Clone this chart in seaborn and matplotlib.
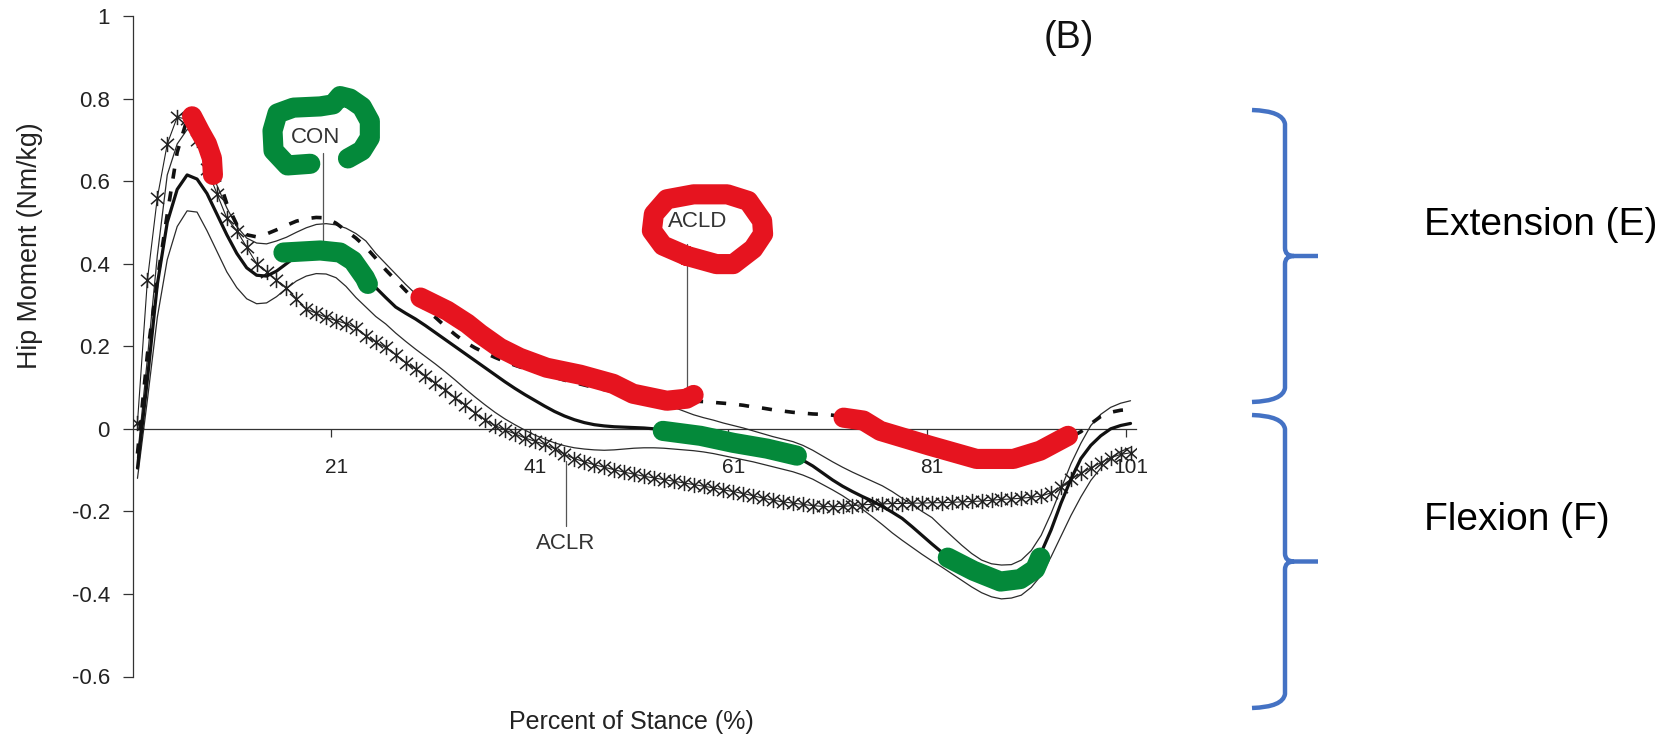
import numpy as np
import matplotlib
matplotlib.use("Agg")
import matplotlib.pyplot as plt
from matplotlib.path import Path
from matplotlib.patches import PathPatch
import seaborn as sns

# ---------------------------------------------------------------- data
stance = np.arange(1, 102)  # percent of stance, 1..101

aclr = [0.015, 0.36, 0.56, 0.69, 0.755, 0.75, 0.70, 0.63, 0.57, 0.51,
        0.48, 0.44, 0.40, 0.38, 0.36, 0.342, 0.315, 0.29, 0.28, 0.27,
        0.262, 0.255, 0.245, 0.225, 0.21, 0.197, 0.18, 0.16, 0.145, 0.128,
        0.11, 0.095, 0.075, 0.058, 0.038, 0.022, 0.008, -0.003, -0.012, -0.022,
        -0.03, -0.038, -0.048, -0.062, -0.072, -0.08, -0.087, -0.093, -0.099, -0.105,
        -0.11, -0.115, -0.119, -0.123, -0.127, -0.131, -0.135, -0.139, -0.143, -0.148,
        -0.152, -0.157, -0.162, -0.168, -0.173, -0.177, -0.18, -0.183, -0.186, -0.188,
        -0.189, -0.188, -0.186, -0.184, -0.183, -0.182, -0.181, -0.181, -0.18, -0.18,
        -0.179, -0.179, -0.178, -0.177, -0.176, -0.175, -0.173, -0.171, -0.17, -0.168,
        -0.166, -0.163, -0.155, -0.14, -0.122, -0.108, -0.095, -0.082, -0.07, -0.062,
        -0.058]

acld = [-0.06, 0.18, 0.36, 0.52, 0.67, 0.75, 0.77, 0.70, 0.62, 0.545,
        0.495, 0.47, 0.465, 0.472, 0.482, 0.493, 0.503, 0.509, 0.512, 0.511,
        0.498, 0.48, 0.462, 0.44, 0.413, 0.385, 0.36, 0.335, 0.31, 0.29,
        0.27, 0.248, 0.228, 0.21, 0.196, 0.184, 0.173, 0.163, 0.154, 0.146,
        0.139, 0.132, 0.125, 0.118, 0.112, 0.106, 0.1, 0.095, 0.09, 0.086,
        0.082, 0.079, 0.076, 0.073, 0.071, 0.069, 0.067, 0.066, 0.064, 0.062,
        0.06, 0.057, 0.053, 0.05, 0.046, 0.043, 0.04, 0.038, 0.036, 0.035,
        0.033, 0.029, 0.022, 0.013, 0.003, -0.006, -0.014, -0.021, -0.028, -0.035,
        -0.042, -0.049, -0.056, -0.062, -0.067, -0.071, -0.073, -0.074, -0.073, -0.07,
        -0.064, -0.056, -0.045, -0.033, -0.02, -0.007, 0.012, 0.03, 0.04, 0.045,
        0.047]

con_mean = [-0.095, 0.12, 0.35, 0.50, 0.58, 0.615, 0.605, 0.57, 0.52, 0.47,
            0.425, 0.39, 0.372, 0.37, 0.382, 0.40, 0.418, 0.43, 0.436, 0.436,
            0.43, 0.415, 0.395, 0.37, 0.342, 0.318, 0.295, 0.28, 0.266, 0.25,
            0.233, 0.216, 0.199, 0.182, 0.165, 0.148, 0.131, 0.114, 0.098, 0.083,
            0.069, 0.055, 0.042, 0.031, 0.022, 0.015, 0.01, 0.007, 0.005, 0.004,
            0.003, 0.002, 0.0, -0.003, -0.007, -0.011, -0.015, -0.019, -0.023, -0.027,
            -0.031, -0.035, -0.04, -0.045, -0.051, -0.058, -0.066, -0.076, -0.09, -0.107,
            -0.124, -0.139, -0.152, -0.164, -0.175, -0.188, -0.202, -0.217, -0.237, -0.258,
            -0.279, -0.299, -0.318, -0.334, -0.348, -0.359, -0.367, -0.371, -0.371, -0.362,
            -0.34, -0.3, -0.245, -0.18, -0.122, -0.072, -0.04, -0.017, 0.0, 0.008,
            0.013]

con_upper = [-0.07, 0.17, 0.42, 0.615, 0.69, 0.725, 0.72, 0.66, 0.59, 0.535,
             0.49, 0.462, 0.45, 0.448, 0.455, 0.464, 0.476, 0.487, 0.495, 0.497,
             0.494, 0.486, 0.473, 0.455, 0.425, 0.40, 0.375, 0.35, 0.327, 0.305,
             0.287, 0.27, 0.254, 0.239, 0.225, 0.211, 0.198, 0.185, 0.175, 0.165,
             0.156, 0.148, 0.14, 0.132, 0.125, 0.118, 0.111, 0.105, 0.097, 0.09,
             0.083, 0.075, 0.068, 0.06, 0.052, 0.043, 0.034, 0.027, 0.021, 0.014,
             0.008, 0.002, -0.005, -0.012, -0.019, -0.025, -0.031, -0.04, -0.052, -0.066,
             -0.08, -0.093, -0.105, -0.116, -0.127, -0.138, -0.152, -0.168, -0.184, -0.2,
             -0.215, -0.238, -0.26, -0.282, -0.302, -0.318, -0.327, -0.33, -0.329, -0.318,
             -0.295, -0.258, -0.205, -0.145, -0.085, -0.035, 0.008, 0.035, 0.052, 0.062,
             0.068]

con_lower = [-0.12, 0.07, 0.27, 0.41, 0.49, 0.528, 0.525, 0.48, 0.43, 0.38,
             0.342, 0.315, 0.303, 0.305, 0.32, 0.34, 0.358, 0.37, 0.376, 0.375,
             0.366, 0.345, 0.318, 0.295, 0.272, 0.254, 0.232, 0.212, 0.193, 0.175,
             0.157, 0.138, 0.118, 0.097, 0.077, 0.058, 0.04, 0.024, 0.01, -0.003,
             -0.015, -0.025, -0.034, -0.041, -0.046, -0.049, -0.051, -0.052, -0.051, -0.049,
             -0.047, -0.046, -0.046, -0.047, -0.049, -0.051, -0.053, -0.056, -0.06, -0.065,
             -0.07, -0.075, -0.08, -0.086, -0.092, -0.098, -0.104, -0.112, -0.122, -0.135,
             -0.148, -0.162, -0.178, -0.195, -0.213, -0.232, -0.252, -0.27, -0.287, -0.304,
             -0.32, -0.335, -0.351, -0.367, -0.383, -0.397, -0.407, -0.412, -0.41, -0.403,
             -0.384, -0.355, -0.31, -0.26, -0.21, -0.165, -0.125, -0.095, -0.07, -0.055,
             -0.045]

y_ticks = [-0.6, -0.4, -0.2, 0.0, 0.2, 0.4, 0.6, 0.8, 1.0]
y_tick_labels = ["-0.6", "-0.4", "-0.2", "0", "0.2", "0.4", "0.6", "0.8", "1"]
x_tick_labels = ["21", "41", "61", "81", "101"]

# group labels with their leader lines (x, y of text; x, y0, y1 of leader)
group_names = ["CON", "ACLD", "ACLR"]
group_text_x = [18.9, 57.4, 44.1]
group_text_y = [0.705, 0.502, -0.279]
leader_x = [19.7, 56.3, 44.2]
leader_y0 = [0.669, 0.448, -0.078]
leader_y1 = [0.451, 0.100, -0.235]

# hand-drawn highlight strokes (data coordinates)
red_peak_x = [6.5, 7.3, 8.0, 8.5, 8.6]
red_peak_y = [0.757, 0.72, 0.69, 0.655, 0.615]
red_mid_x = [29.5, 32.2, 34.2, 35.5, 37.5, 39.5, 42.2, 45.6, 48.9, 50.9, 54.3, 56.3, 57.0]
red_mid_y = [0.318, 0.286, 0.255, 0.230, 0.196, 0.172, 0.148, 0.131, 0.109, 0.085, 0.068, 0.073, 0.082]
red_late_x = [72.1, 74.1, 75.8, 80.8, 85.5, 89.2, 91.9, 94.7]
red_late_y = [0.027, 0.020, -0.005, -0.041, -0.073, -0.073, -0.053, -0.017]
red_ring_x = [56.3, 53.9, 52.8, 53.0, 54.3, 57.0, 60.4, 62.5, 63.9, 64.0, 63.0, 61.0, 59.3, 56.3]
red_ring_y = [0.419, 0.444, 0.480, 0.520, 0.556, 0.568, 0.568, 0.552, 0.504, 0.472, 0.436, 0.399, 0.399, 0.419]

green_hump_x = [15.7, 19.4, 21.4, 22.7, 23.9, 24.2]
green_hump_y = [0.427, 0.432, 0.427, 0.407, 0.366, 0.351]
green_mid_x = [53.9, 57.7, 61.0, 64.4, 67.4]
green_mid_y = [-0.005, -0.017, -0.034, -0.048, -0.065]
green_dip_x = [82.6, 85.2, 87.9, 89.9, 91.4, 91.9]
green_dip_y = [-0.312, -0.344, -0.370, -0.364, -0.340, -0.312]
green_ring_x = [18.4, 16.1, 14.7, 14.6, 15.1, 16.7, 19.4, 20.7, 21.4, 22.4, 23.6, 24.4, 24.4, 23.6, 22.2]
green_ring_y = [0.642, 0.638, 0.674, 0.722, 0.764, 0.778, 0.781, 0.786, 0.806, 0.800, 0.780, 0.745, 0.705, 0.674, 0.655]

# ---------------------------------------------------------------- style
sns.set_style("ticks")
plt.rcParams["font.family"] = ["Liberation Sans", "DejaVu Sans"]
plt.rcParams["axes.unicode_minus"] = False

W, H = 1670, 738
fig = plt.figure(figsize=(W / 100, H / 100), dpi=100)
ax = fig.add_axes([132.5 / W, 61.5 / H, 1003 / W, 660.5 / H])

# asterisk glyph: a vertical bar crossed by an X
asterisk = Path([(0, -1), (0, 1), (-0.85, -0.75), (0.85, 0.75), (-0.85, 0.75), (0.85, -0.75)],
                [Path.MOVETO, Path.LINETO, Path.MOVETO, Path.LINETO, Path.MOVETO, Path.LINETO])

line_kw = dict(ax=ax, estimator=None, sort=False, legend=False)

# CON +/- 1 SD (thin) and mean (thick)
sns.lineplot(x=stance, y=con_upper, color="#2b2b2b", linewidth=0.9, zorder=3, **line_kw)
sns.lineplot(x=stance, y=con_lower, color="#2b2b2b", linewidth=0.9, zorder=3, **line_kw)
# ACLR: thin line with asterisk markers
sns.lineplot(x=stance, y=aclr, color="#222222", linewidth=0.8, marker=asterisk,
             markersize=11, markeredgewidth=1.1, markeredgecolor="#222222",
             markerfacecolor="none", zorder=3, **line_kw)
sns.lineplot(x=stance, y=con_mean, color="#111111", linewidth=2.3, zorder=4, **line_kw)
# ACLD: heavy short dashes
sns.lineplot(x=stance, y=acld, color="#111111", linewidth=2.6,
             linestyle=(0, (2.8, 3.6)), zorder=4, **line_kw)

# group labels and leader lines
for name, tx, ty, lx, ly0, ly1 in zip(group_names, group_text_x, group_text_y,
                                      leader_x, leader_y0, leader_y1):
    ax.plot([lx, lx], [ly0, ly1], color="#555555", linewidth=0.9, zorder=3)
    ax.text(tx, ty, name, ha="center", va="center", fontsize=16, color="#333333", zorder=4)

# highlight strokes
stroke_kw = dict(linewidth=14.5, solid_capstyle="round", solid_joinstyle="round", zorder=6)
red = "#E6141F"
green = "#04893A"
for xs, ys in [(red_peak_x, red_peak_y), (red_mid_x, red_mid_y),
               (red_late_x, red_late_y), (red_ring_x, red_ring_y)]:
    ax.plot(xs, ys, color=red, **stroke_kw)
for xs, ys in [(green_hump_x, green_hump_y), (green_mid_x, green_mid_y),
               (green_dip_x, green_dip_y), (green_ring_x, green_ring_y)]:
    ax.plot(xs, ys, color=green, **stroke_kw)

# ---------------------------------------------------------------- axes
ax.set_xlim(0.5, 101.5)
ax.set_ylim(-0.6, 1.0)
for s in ["top", "right"]:
    ax.spines[s].set_visible(False)
ax.spines["bottom"].set_position(("data", 0))
for s in ["left", "bottom"]:
    ax.spines[s].set_color("#333333")
    ax.spines[s].set_linewidth(0.9)

ax.set_yticks(y_ticks)
ax.set_yticklabels(y_tick_labels)
ax.set_xticks([21, 41, 61, 81, 101])
ax.set_xticklabels(x_tick_labels)
ax.set_xticks([20.5, 40.5, 60.5, 80.5, 100.5], minor=True)
ax.tick_params(axis="y", which="major", length=7.2, width=0.9, direction="out",
               pad=9.0, labelsize=16, colors="#333333", labelcolor="#222222")
ax.tick_params(axis="x", which="major", length=0, pad=21, labelsize=15,
               labelcolor="#222222")
ax.tick_params(axis="x", which="minor", length=6, width=0.9, direction="out",
               color="#333333")

ax.set_xlabel("Percent of Stance (%)", fontsize=18, color="#222222")
ax.set_ylabel("Hip Moment (Nm/kg)", fontsize=19.3, color="#222222")
ax.xaxis.set_label_coords((631 - 132.5) / 1003, (676.5 - 722) / 660.5)
ax.xaxis.label.set_va("center")
ax.yaxis.set_label_coords((30 - 132.5) / 1003, (676.5 - 246) / 660.5)
ax.yaxis.label.set_va("center")

fig.text(1069 / W, 1 - 38 / H, "(B)", ha="center", va="center", fontsize=27, color="#111111")

# ---------------------------------------------------------------- braces
def brace_path(top, bottom, x_end=1252, x_spine=1285, x_tip=1318):
    mid = (top + bottom) / 2
    pts = [(x_end, top), (x_spine - 2, top + 1), (x_spine, top + 14),
           (x_spine, mid - 8), (x_spine, mid), (x_spine + 9, mid),
           (x_tip, mid),
           (x_spine + 9, mid), (x_spine, mid), (x_spine, mid + 8),
           (x_spine, bottom - 14), (x_spine - 2, bottom - 1), (x_end, bottom)]
    codes = [Path.MOVETO, Path.CURVE3, Path.CURVE3,
             Path.LINETO, Path.CURVE3, Path.CURVE3,
             Path.LINETO,
             Path.MOVETO, Path.CURVE3, Path.CURVE3,
             Path.LINETO, Path.CURVE3, Path.CURVE3]
    verts = [(x / W, 1 - y / H) for x, y in pts]
    return Path(verts, codes)

for top, bottom in [(110, 402), (415, 708)]:
    fig.patches.append(PathPatch(brace_path(top, bottom), transform=fig.transFigure,
                                 fill=False, edgecolor="#4472C4", linewidth=3.2,
                                 capstyle="butt", joinstyle="round"))

fig.text(1424 / W, 1 - 225 / H, "Extension (E)", ha="left", va="center",
         fontsize=28, color="#000000")
fig.text(1424 / W, 1 - 520 / H, "Flexion (F)", ha="left", va="center",
         fontsize=28, color="#000000")

fig.savefig("out.png", dpi=100)
